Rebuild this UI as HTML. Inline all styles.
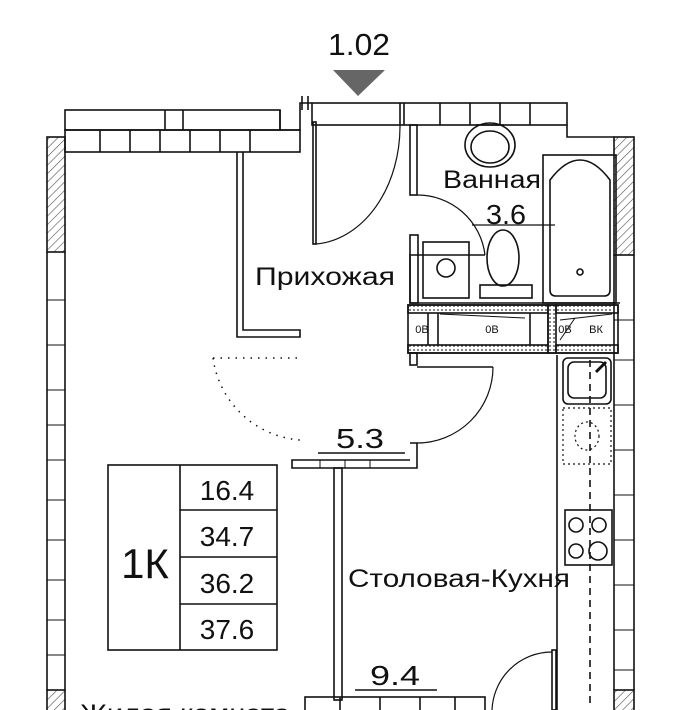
<!DOCTYPE html>
<html><head><meta charset="utf-8"><style>
html,body{margin:0;padding:0;background:#fff;width:681px;height:710px;overflow:hidden}
text{font-family:"Liberation Sans",sans-serif;fill:#111}
</style></head><body>
<svg width="681" height="710" viewBox="0 0 681 710" xmlns="http://www.w3.org/2000/svg">
<defs>
<pattern id="h" width="6" height="6" patternUnits="userSpaceOnUse" patternTransform="rotate(45)">
<line x1="0" y1="0" x2="0" y2="6" stroke="#555" stroke-width="1.2"/></pattern>
<pattern id="d" width="4" height="4" patternUnits="userSpaceOnUse"><circle cx="2" cy="2" r="0.9" fill="#333"/></pattern>
</defs>
<g fill="none" stroke="#111" stroke-width="1.6">
<polygon points="333,70 385,70 358,96" fill="#666" stroke="none"/>
<line x1="302" y1="96" x2="302" y2="110"/>
<line x1="308" y1="96" x2="308" y2="110"/>
<rect x="312" y="103" width="255" height="22"/>
<line x1="400" y1="103" x2="400" y2="125"/><line x1="404" y1="103" x2="404" y2="125"/>
<line x1="440" y1="103" x2="440" y2="125"/><line x1="470" y1="103" x2="470" y2="125"/>
<line x1="500" y1="103" x2="500" y2="125"/><line x1="530" y1="103" x2="530" y2="125"/>
<polyline points="567,125 567,137 614,137"/>
<rect x="65" y="110" width="215" height="20"/>
<line x1="165" y1="110" x2="165" y2="130"/><line x1="183" y1="110" x2="183" y2="130"/>
<rect x="65" y="130" width="235" height="22"/>
<line x1="100" y1="130" x2="100" y2="152"/><line x1="130" y1="130" x2="130" y2="152"/>
<line x1="160" y1="130" x2="160" y2="152"/><line x1="190" y1="130" x2="190" y2="152"/>
<line x1="220" y1="130" x2="220" y2="152"/><line x1="250" y1="130" x2="250" y2="152"/>
<polyline points="280,110 280,130 300,130 300,103 312,103"/>
<rect x="47" y="137" width="18" height="115" fill="url(#h)"/>
<line x1="47" y1="252" x2="47" y2="690"/><line x1="65" y1="252" x2="65" y2="690"/>
<g stroke-width="1">
<line x1="47" y1="300" x2="65" y2="300"/><line x1="47" y1="345" x2="65" y2="345"/>
<line x1="47" y1="390" x2="65" y2="390"/><line x1="47" y1="425" x2="65" y2="425"/>
<line x1="47" y1="460" x2="65" y2="460"/><line x1="47" y1="500" x2="65" y2="500"/>
<line x1="47" y1="540" x2="65" y2="540"/><line x1="47" y1="580" x2="65" y2="580"/>
<line x1="47" y1="620" x2="65" y2="620"/><line x1="47" y1="655" x2="65" y2="655"/>
</g>
<rect x="47" y="690" width="18" height="25" fill="url(#h)"/>
<rect x="614" y="137" width="20" height="118" fill="url(#h)"/>
<line x1="634" y1="255" x2="634" y2="690"/><line x1="614" y1="255" x2="614" y2="690"/>
<g stroke-width="1">
<line x1="614" y1="320" x2="634" y2="320"/><line x1="614" y1="360" x2="634" y2="360"/>
<line x1="614" y1="405" x2="634" y2="405"/><line x1="614" y1="450" x2="634" y2="450"/>
<line x1="614" y1="495" x2="634" y2="495"/><line x1="614" y1="540" x2="634" y2="540"/>
<line x1="614" y1="585" x2="634" y2="585"/><line x1="614" y1="630" x2="634" y2="630"/>
<line x1="614" y1="670" x2="634" y2="670"/>
</g>
<rect x="614" y="690" width="20" height="25" fill="url(#h)"/>
<polyline points="237,152 237,337 300,337 300,330 243,330 243,152"/>
<rect x="313" y="122" width="3" height="122"/>
<path d="M316,244 A90,118 0 0 0 400,125" stroke-width="1.2"/>
<rect x="410" y="125" width="7" height="70"/>
<path d="M417,195 A68,68 0 0 1 485,255" stroke-width="1.2"/>
<ellipse cx="490" cy="145" rx="25" ry="22"/>
<ellipse cx="490" cy="147" rx="19" ry="16"/>
<line x1="476" y1="125" x2="504" y2="125"/>
<rect x="543" y="155" width="73" height="148"/>
<path d="M550,290 L550,180 Q580,140 610,180 L610,290 Q610,296 604,296 L556,296 Q550,296 550,290Z"/>
<circle cx="580" cy="272" r="3"/>
<polyline points="485,255 410,255 410,303 620,303"/>
<rect x="410" y="235" width="8" height="68"/>
<rect x="423" y="242" width="46" height="56"/>
<circle cx="446" cy="268" r="9"/>
<ellipse cx="503" cy="258" rx="16" ry="28"/>
<rect x="480" y="285" width="52" height="13"/>
<line x1="472" y1="225" x2="555" y2="225" stroke-width="1.2"/>
<rect x="408" y="305" width="210" height="48"/>
<rect x="408" y="305" width="140" height="8" fill="url(#d)"/>
<rect x="408" y="345" width="140" height="8" fill="url(#d)"/>
<rect x="548" y="305" width="8" height="48" fill="url(#d)"/>
<rect x="556" y="305" width="62" height="8" fill="url(#d)"/>
<rect x="556" y="345" width="62" height="8" fill="url(#d)"/>
<line x1="428" y1="313" x2="428" y2="345"/><line x1="438" y1="313" x2="438" y2="345"/>
<line x1="548" y1="313" x2="548" y2="345"/><line x1="530" y1="313" x2="530" y2="345"/>
<line x1="440" y1="314" x2="525" y2="318" stroke-width="1"/>
<line x1="560" y1="320" x2="612" y2="314" stroke-width="1"/>
<line x1="560" y1="340" x2="575" y2="318" stroke-width="1"/>
<rect x="410" y="353" width="7" height="12"/>
<line x1="417" y1="367" x2="493" y2="367"/>
<path d="M493,367 A76,76 0 0 1 417,443" stroke-width="1.2"/>
<path d="M213,358 A95,95 0 0 0 300,440" stroke-dasharray="1.5 6" stroke-width="1.5"/>
<line x1="213" y1="358" x2="300" y2="358" stroke-dasharray="1.5 6" stroke-width="1.5"/>
<polyline points="410,443 417,443 417,468 292,468 292,460 410,460"/>
<g stroke-width="1"><line x1="320" y1="460" x2="320" y2="468"/><line x1="345" y1="460" x2="345" y2="468"/><line x1="370" y1="460" x2="370" y2="468"/></g>
<rect x="334" y="468" width="8" height="232"/>
<line x1="557" y1="355" x2="557" y2="710"/>
<rect x="563" y="358" width="48" height="46" rx="5"/>
<rect x="568" y="362" width="38" height="36" rx="6"/>
<line x1="596" y1="372" x2="606" y2="362" stroke-width="3"/>
<rect x="563" y="408" width="48" height="56" stroke-dasharray="2 3" stroke-width="1.2"/>
<ellipse cx="587" cy="436" rx="12" ry="14" stroke-dasharray="2 3" stroke-width="1.2"/>
<line x1="590" y1="360" x2="590" y2="705" stroke-dasharray="7 5"/>
<rect x="565" y="510" width="47" height="55"/>
<circle cx="576" cy="525" r="7"/><circle cx="599" cy="525" r="7"/>
<circle cx="576" cy="551" r="7"/><circle cx="598" cy="551" r="9"/>
<rect x="305" y="697" width="180" height="15"/>
<line x1="340" y1="697" x2="340" y2="710"/><line x1="380" y1="697" x2="380" y2="710"/><line x1="420" y1="697" x2="420" y2="710"/><line x1="455" y1="697" x2="455" y2="710"/>
<rect x="552" y="650" width="4" height="60"/>
<path d="M552,652 A60,60 0 0 0 492,712" stroke-width="1.2"/>
<line x1="318" y1="453" x2="405" y2="453"/>
<line x1="355" y1="690" x2="437" y2="690"/>
<rect x="108" y="465" width="169" height="185"/>
<line x1="180" y1="465" x2="180" y2="650"/>
<line x1="180" y1="510" x2="277" y2="510"/><line x1="180" y1="557" x2="277" y2="557"/><line x1="180" y1="604" x2="277" y2="604"/>
</g>
<g font-size="11" text-anchor="middle"><text x="422" y="333">0B</text><text x="492" y="333">0B</text><text x="565" y="333">0B</text><text x="596" y="333">ВК</text></g>
<text x="328" y="55" font-size="31" textLength="62" lengthAdjust="spacingAndGlyphs">1.02</text>
<text x="443" y="188" font-size="25" textLength="98" lengthAdjust="spacingAndGlyphs">Ванная</text>
<text x="486" y="224" font-size="28" textLength="40" lengthAdjust="spacingAndGlyphs">3.6</text>
<text x="255" y="285" font-size="25" textLength="140" lengthAdjust="spacingAndGlyphs">Прихожая</text>
<text x="336" y="448" font-size="28" textLength="48" lengthAdjust="spacingAndGlyphs">5.3</text>
<text x="348" y="587" font-size="25" textLength="222" lengthAdjust="spacingAndGlyphs">Столовая-Кухня</text>
<text x="370" y="685" font-size="28" textLength="50" lengthAdjust="spacingAndGlyphs">9.4</text>
<text x="80" y="722" font-size="25" textLength="210" lengthAdjust="spacingAndGlyphs">Жилая комната</text>
<text x="145" y="578" font-size="42" text-anchor="middle">1К</text>
<g font-size="28" text-anchor="middle"><text x="227" y="500">16.4</text><text x="227" y="546">34.7</text><text x="227" y="593">36.2</text><text x="227" y="639">37.6</text></g>
</svg>
</body></html>
